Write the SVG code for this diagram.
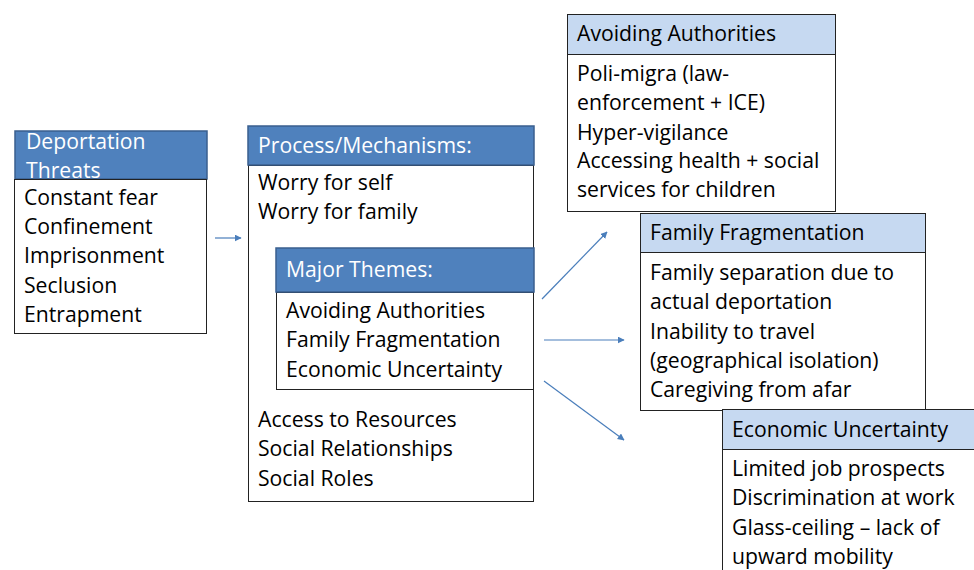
<svg xmlns="http://www.w3.org/2000/svg" width="974" height="570" viewBox="0 0 974 570">
<defs>
<style>
text{font-family:"Open Sans","Liberation Sans",sans-serif;font-size:21.2px;fill:#000}
.hd{fill:#4f81bd;stroke:#3a5f8f;stroke-width:1.5}
.hl{fill:#c6d9f1;stroke:#222;stroke-width:1}
.bd{fill:#fff;stroke:#222;stroke-width:1}
.wt{fill:#fff}
.cn{stroke:#4a7ebb;stroke-width:1.2;fill:none;marker-end:url(#ah)}
</style>
<marker id="ah" viewBox="0 0 10 10" refX="9" refY="5" markerWidth="7" markerHeight="7" orient="auto" markerUnits="userSpaceOnUse">
<path d="M0,0 L10,5 L0,10 z" fill="#4a7ebb"/>
</marker>
</defs>
<rect width="974" height="570" fill="#fff"/>
<g id="deportation-threats">
<rect class="hd" x="15" y="131" width="192" height="48"/>
<text class="wt" x="26" y="149">Deportation</text>
<text class="wt" x="26" y="178">Threats</text>
<rect class="bd" x="14.5" y="179.5" width="192" height="154"/>
<text x="24" y="205">Constant fear</text>
<text x="24" y="234">Confinement</text>
<text x="24" y="263">Imprisonment</text>
<text x="24" y="293">Seclusion</text>
<text x="24" y="322">Entrapment</text>
</g>
<g id="process-mechanisms">
<rect class="bd" x="248.5" y="165.5" width="285" height="336"/>
<rect class="hd" x="248" y="126" width="286" height="39"/>
<text class="wt" x="258" y="153">Process/Mechanisms:</text>
<text x="258" y="190">Worry for self</text>
<text x="258" y="219">Worry for family</text>
<text x="258" y="427">Access to Resources</text>
<text x="258" y="456">Social Relationships</text>
<text x="258" y="486">Social Roles</text>
</g>
<g id="major-themes">
<rect class="bd" x="276.5" y="292.5" width="257" height="97"/>
<rect class="hd" x="276" y="248" width="258" height="44"/>
<text class="wt" x="286" y="277">Major Themes:</text>
<text x="286" y="318">Avoiding Authorities</text>
<text x="286" y="347">Family Fragmentation</text>
<text x="286" y="377">Economic Uncertainty</text>
</g>
<g id="avoiding-authorities">
<rect class="bd" x="567.5" y="54.5" width="268" height="157"/>
<rect class="hl" x="567.5" y="14.5" width="268" height="40"/>
<text x="577" y="41">Avoiding Authorities</text>
<text x="577" y="81">Poli-migra (law-</text>
<text x="577" y="110">enforcement + ICE)</text>
<text x="577" y="140">Hyper-vigilance</text>
<text x="577" y="168">Accessing health + social</text>
<text x="577" y="197">services for children</text>
</g>
<g id="family-fragmentation">
<rect class="bd" x="640.5" y="252.5" width="285" height="158"/>
<rect class="hl" x="640.5" y="213.5" width="285" height="39"/>
<text x="650" y="240">Family Fragmentation</text>
<text x="650" y="280">Family separation due to</text>
<text x="650" y="309">actual deportation</text>
<text x="650" y="339">Inability to travel</text>
<text x="650" y="368">(geographical isolation)</text>
<text x="650" y="397">Caregiving from afar</text>
</g>
<g id="economic-uncertainty">
<rect class="bd" x="722.5" y="449.5" width="260" height="140"/>
<rect class="hl" x="722.5" y="409.5" width="260" height="40"/>
<text x="732" y="437">Economic Uncertainty</text>
<text x="732" y="476">Limited job prospects</text>
<text x="732" y="505">Discrimination at work</text>
<text x="732" y="535">Glass-ceiling – lack of</text>
<text x="732" y="564">upward mobility</text>
</g>
<g id="connectors">
<line class="cn" x1="215" y1="238" x2="241" y2="238"/>
<line class="cn" x1="542" y1="299" x2="607" y2="232"/>
<line class="cn" x1="544" y1="340" x2="624" y2="340"/>
<line class="cn" x1="544" y1="381" x2="624" y2="440"/>
</g>
</svg>
